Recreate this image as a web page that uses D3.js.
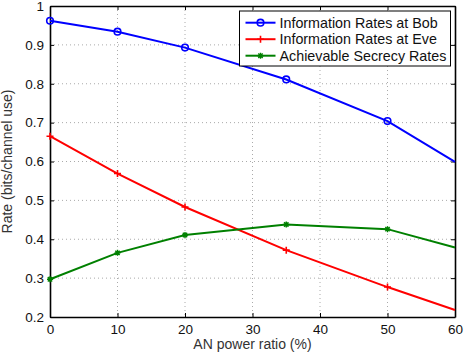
<!DOCTYPE html>
<html>
<head>
<meta charset="utf-8">
<script src="https://cdn.jsdelivr.net/npm/d3@7"></script>
<style>
body{margin:0;background:#fff;}
text{font-family:"Liberation Sans",Arial,sans-serif;}
</style>
</head>
<body>
<div id="container"></div>
<script>
const xVals=[0, 10, 20, 35, 50, 60];
const bobRates=[0.962, 0.934, 0.893, 0.811, 0.704, 0.599];
const eveRates=[0.665, 0.569, 0.483, 0.372, 0.277, 0.218];
const secrecyRates=[0.297, 0.365, 0.411, 0.438, 0.426, 0.379];
const markerCount=5; // no marker drawn at the last point (60)
const xTicks=[0, 10, 20, 30, 40, 50, 60];
const yTicks=[0.2, 0.3, 0.4, 0.5, 0.6, 0.7, 0.8, 0.9, 1];
const seriesNames=["Information Rates at Bob", "Information Rates at Eve", "Achievable Secrecy Rates"];

const w=464, h=360;
const margin={top:6, left:50, bottom:43, right:9};
const graphWidth=w-margin.left-margin.right;
const graphHeight=h-margin.top-margin.bottom;

const svg=d3.select("#container").append("svg").attr("width", w).attr("height", h);
const graph=svg.append("g").attr("transform", `translate(${margin.left}, ${margin.top})`);

const xScale=d3.scaleLinear().domain([0, 60]).range([0, graphWidth]);
const yScale=d3.scaleLinear().domain([0.2, 1]).range([graphHeight, 0]);

// grid
graph.append("g").selectAll("line")
	.data(xTicks.slice(1, -1))
	.enter().append("line")
		.attr("x1", d => xScale(d)).attr("x2", d => xScale(d))
		.attr("y1", 0).attr("y2", graphHeight)
		.attr("stroke", "#aaa").attr("stroke-width", 1).attr("stroke-dasharray", "1,3");
graph.append("g").selectAll("line")
	.data(yTicks.slice(1, -1))
	.enter().append("line")
		.attr("y1", d => yScale(d)).attr("y2", d => yScale(d))
		.attr("x1", 0).attr("x2", graphWidth)
		.attr("stroke", "#aaa").attr("stroke-width", 1).attr("stroke-dasharray", "1,3");

// axes (ticks point inward)
const fmtY=d => d===1 ? "1" : d3.format(".1f")(d);
const xAxis=d3.axisBottom(xScale).tickValues(xTicks).tickSizeInner(-4).tickSizeOuter(0).tickPadding(7);
const xAxisTop=d3.axisTop(xScale).tickValues(xTicks).tickSizeInner(-4).tickSizeOuter(0).tickFormat("");
const yAxis=d3.axisLeft(yScale).tickValues(yTicks).tickFormat(fmtY).tickSizeInner(-4).tickSizeOuter(0).tickPadding(6);
const yAxisRight=d3.axisRight(yScale).tickValues(yTicks).tickSizeInner(-4).tickSizeOuter(0).tickFormat("");

const styleAxis=g => {
	g.select(".domain").attr("stroke", "#000").attr("stroke-width", 1.6);
	g.selectAll(".tick line").attr("stroke", "#000");
	g.selectAll(".tick text").attr("font-size", 13.5).attr("fill", "#111").attr("font-family", "Liberation Sans, Arial, sans-serif");
};
graph.append("g").attr("transform", `translate(0, ${graphHeight})`).call(xAxis).call(styleAxis);
graph.append("g").call(xAxisTop).call(styleAxis);
graph.append("g").call(yAxis).call(styleAxis);
graph.append("g").attr("transform", `translate(${graphWidth}, 0)`).call(yAxisRight).call(styleAxis);

// axis labels
svg.append("text")
	.attr("x", margin.left+graphWidth/2).attr("y", 349)
	.attr("text-anchor", "middle").attr("font-size", 14).attr("fill", "#333")
	.text("AN power ratio (%)");
svg.append("text")
	.attr("transform", `translate(12, ${margin.top+graphHeight/2}) rotate(-90)`)
	.attr("text-anchor", "middle").attr("font-size", 14).attr("fill", "#333")
	.text("Rate (bits/channel use)");

const series=[
	{name:seriesNames[0], values:bobRates, color:"#0000ff", marker:"circle"},
	{name:seriesNames[1], values:eveRates, color:"#ff0000", marker:"plus"},
	{name:seriesNames[2], values:secrecyRates, color:"#008000", marker:"star"}
];

const drawMarker=(g, type, color) => {
	if (type==="circle") {
		g.append("circle").attr("r", 3.3).attr("fill", "none").attr("stroke", color).attr("stroke-width", 1.6);
	} else if (type==="plus") {
		g.append("path").attr("d", "M-3.5,0H3.5M0,-3.5V3.5").attr("stroke", color).attr("stroke-width", 1.6);
	} else {
		g.append("path").attr("d", "M-3,0H3M0,-3V3M-2.2,-2.2L2.2,2.2M-2.2,2.2L2.2,-2.2").attr("stroke", color).attr("stroke-width", 1.4);
	}
};

const line=d3.line().x(d => xScale(d[0])).y(d => yScale(d[1]));
series.forEach(s => {
	const pts=xVals.map((x, i) => [x, s.values[i]]);
	graph.append("path").attr("d", line(pts)).attr("fill", "none").attr("stroke", s.color).attr("stroke-width", 2);
	pts.slice(0, markerCount).forEach(p => {
		const g=graph.append("g").attr("transform", `translate(${xScale(p[0])}, ${yScale(p[1])})`);
		drawMarker(g, s.marker, s.color);
	});
});

// legend
const legend=svg.append("g").attr("transform", "translate(239.5, 11)");
legend.append("rect").attr("width", 211).attr("height", 55).attr("fill", "#fff").attr("stroke", "#000").attr("stroke-width", 1);
series.forEach((s, i) => {
	const yy=11.7+i*16.5;
	legend.append("line").attr("x1", 6).attr("x2", 36).attr("y1", yy).attr("y2", yy).attr("stroke", s.color).attr("stroke-width", 2);
	const g=legend.append("g").attr("transform", `translate(21, ${yy})`);
	drawMarker(g, s.marker, s.color);
	legend.append("text").attr("x", 40).attr("y", yy+5).attr("font-size", 14.3).attr("fill", "#111").text(s.name);
});
</script>
</body>
</html>
